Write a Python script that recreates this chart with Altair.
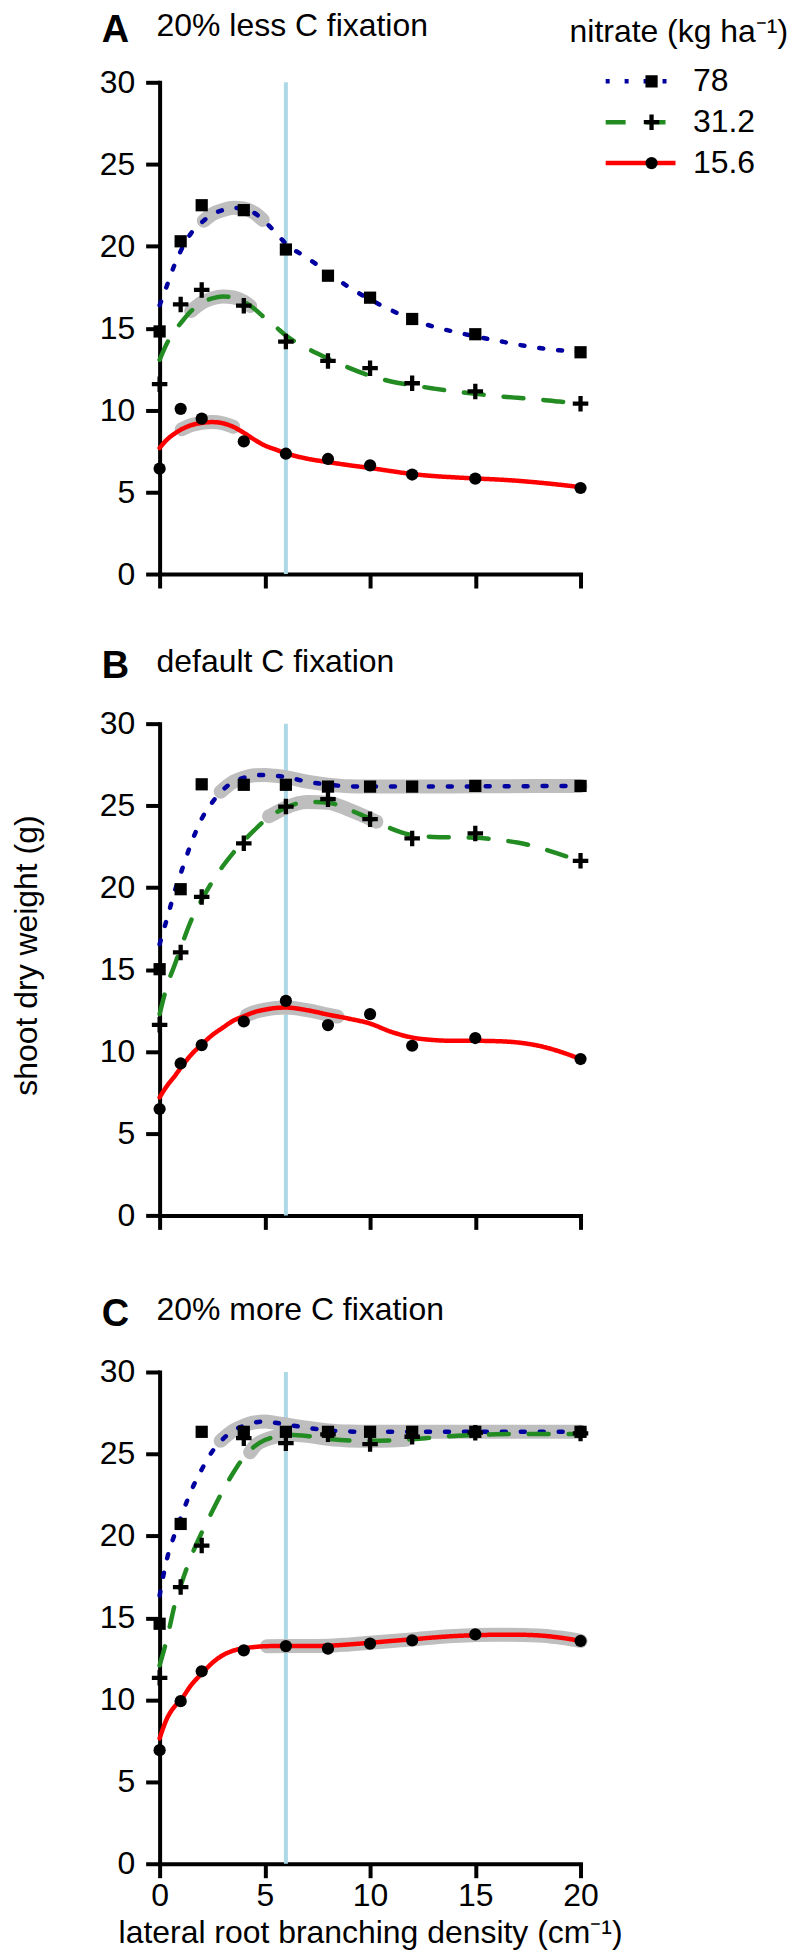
import altair as alt
import pandas as pd

FONT = "Liberation Sans"

# ---------------- data ----------------
series = ["78", "31.2", "15.6"]
series_colors = ["#0000A0", "#228B22", "#FF0000"]
series_dashes = [[4, 15], [20, 20], [1, 0]]
PLUS = "M-0.35,-1.27H0.35V-0.35H1.27V0.35H0.35V1.27H-0.35V0.35H-1.27V-0.35H-0.35Z"
series_shapes = ["square", PLUS, "circle"]

panel_letters = ["A", "B", "C"]
panel_titles = ["20% less C fixation", "default C fixation", "20% more C fixation"]
optimum_density = [6]
x_ticks = [0, 5, 10, 15, 20]
y_ticks = [0, 5, 10, 15, 20, 25, 30]

# simulated points
point_x = [0, 1, 2, 4, 6, 8, 10, 12, 15, 20]
a_78_pts = [14.8, 20.3, 22.5, 22.2, 19.8, 18.2, 16.86, 15.56, 14.63, 13.53]
a_31_pts = [11.58, 16.45, 17.33, 16.37, 14.18, 13.0, 12.56, 11.64, 11.14, 10.39]
a_15_pts = [6.43, 10.08, 9.48, 8.09, 7.34, 7.02, 6.63, 6.07, 5.82, 5.25]
b_78_pts = [15.02, 19.9, 26.3, 26.27, 26.27, 26.16, 26.16, 26.16, 26.2, 26.2]
b_31_pts = [11.63, 16.04, 19.43, 22.7, 24.94, 25.39, 24.17, 23.0, 23.3, 21.63]
b_15_pts = [6.49, 9.27, 10.39, 11.83, 13.09, 11.61, 12.28, 10.35, 10.82, 9.54]
c_78_pts = [14.64, 20.73, 26.35, 26.35, 26.35, 26.35, 26.35, 26.35, 26.35, 26.35]
c_31_pts = [11.34, 16.88, 19.41, 25.96, 25.66, 26.2, 25.6, 26.05, 26.3, 26.25]
c_15_pts = [6.93, 9.92, 11.74, 13.02, 13.28, 13.12, 13.43, 13.63, 13.99, 13.59]

# fitted curves
curve_x = [0, 0.35, 0.75, 1, 1.5, 2, 2.5, 3, 3.5, 4, 4.5, 5, 5.5, 6, 7, 8, 9, 10,
           11, 12, 13, 14, 15, 16, 17, 18, 19, 20]
a_78_fit = [16.4, 17.6, 19.0, 19.7, 20.8, 21.45, 21.95, 22.2, 22.34, 22.3, 22.03, 21.5, 20.85, 20.15,
            19.3, 18.4, 17.5, 16.75, 16.1, 15.52, 15.1, 14.78, 14.5, 14.25, 14.0, 13.8, 13.65, 13.53]
a_31_fit = [13.07, 14.08, 14.9, 15.3, 16.05, 16.55, 16.82, 16.93, 16.88, 16.62, 16.18, 15.62, 15.1, 14.55,
            13.78, 13.15, 12.58, 12.1, 11.75, 11.52, 11.32, 11.14, 11.0, 10.86, 10.75, 10.65, 10.52, 10.43]
a_15_fit = [7.69, 8.2, 8.6, 8.8, 9.08, 9.22, 9.27, 9.2, 8.98, 8.62, 8.2, 7.84, 7.6, 7.37,
            7.04, 6.83, 6.64, 6.47, 6.28, 6.1, 5.98, 5.9, 5.83, 5.77, 5.69, 5.58, 5.45, 5.3]
b_78_fit = [16.55, 18.1, 19.9, 20.85, 22.7, 24.2, 25.2, 25.95, 26.45, 26.7, 26.85, 26.87, 26.82, 26.74,
            26.46, 26.28, 26.18, 26.16, 26.16, 26.16, 26.16, 26.16, 26.17, 26.18, 26.18, 26.19, 26.2, 26.2]
b_31_fit = [12.28, 14.0, 15.4, 16.3, 18.0, 19.25, 20.35, 21.3, 22.12, 22.85, 23.5, 24.1, 24.55, 24.88,
            25.22, 25.18, 24.75, 24.2, 23.6, 23.2, 23.09, 23.06, 23.04, 22.92, 22.75, 22.45, 22.04, 21.63]
b_15_fit = [7.2, 7.9, 8.55, 9.0, 9.8, 10.43, 11.0, 11.45, 11.88, 12.15, 12.4, 12.55, 12.65, 12.68,
            12.52, 12.25, 12.0, 11.7, 11.2, 10.85, 10.7, 10.65, 10.65, 10.63, 10.55, 10.35, 10.0, 9.54]
c_78_fit = [16.37, 18.6, 20.22, 21.1, 22.75, 24.05, 25.15, 25.9, 26.42, 26.72, 26.92, 26.98, 26.9, 26.8,
            26.6, 26.44, 26.37, 26.35, 26.35, 26.35, 26.35, 26.35, 26.35, 26.35, 26.35, 26.35, 26.35, 26.35]
c_31_fit = [12.1, 13.73, 15.96, 16.95, 18.75, 20.2, 21.5, 22.75, 23.85, 24.8, 25.45, 25.85, 26.05, 26.18,
            26.1, 25.92, 25.82, 25.8, 25.82, 25.9, 26.0, 26.1, 26.15, 26.2, 26.22, 26.22, 26.22, 26.22]
c_15_fit = [7.65, 8.86, 9.65, 9.98, 10.9, 11.6, 12.25, 12.72, 13.0, 13.14, 13.22, 13.27, 13.28, 13.28,
            13.28, 13.3, 13.38, 13.48, 13.59, 13.69, 13.8, 13.89, 13.94, 13.97, 13.97, 13.93, 13.8, 13.59]

# grey highlighted stretches of the fitted curves
a_78_band_x = [2.1, 2.5, 3.0, 3.5, 4.0, 4.5, 4.9]
a_78_band_y = [21.55, 21.95, 22.2, 22.34, 22.3, 22.03, 21.6]
a_31_band_x = [1.5, 2.0, 2.5, 3.0, 3.5, 4.0, 4.3]
a_31_band_y = [16.05, 16.55, 16.82, 16.93, 16.88, 16.62, 16.35]
a_15_band_x = [1.05, 1.5, 2.0, 2.5, 3.0, 3.5]
a_15_band_y = [8.83, 9.08, 9.22, 9.27, 9.2, 8.98]
b_78_band_x = [2.9, 3.5, 4.0, 4.5, 5.0, 5.5, 6.0, 7.0, 8.0, 9.0, 10.0, 12.0, 15.0, 20.0]
b_78_band_y = [25.85, 26.45, 26.7, 26.85, 26.87, 26.82, 26.74, 26.46, 26.28, 26.18, 26.16, 26.16, 26.18, 26.2]
b_31_band_x = [5.2, 5.5, 6.0, 7.0, 8.0, 9.0, 10.0, 10.3]
b_31_band_y = [24.35, 24.55, 24.88, 25.22, 25.18, 24.75, 24.2, 24.02]
b_15_band_x = [4.15, 4.5, 5.0, 5.5, 6.0, 7.0, 8.0, 8.45]
b_15_band_y = [12.22, 12.4, 12.55, 12.65, 12.68, 12.52, 12.25, 12.13]
c_78_band_x = [2.9, 3.5, 4.0, 4.5, 5.0, 5.5, 6.0, 7.0, 8.0, 9.0, 10.0, 15.0, 20.0]
c_78_band_y = [25.8, 26.42, 26.72, 26.92, 26.98, 26.9, 26.8, 26.6, 26.44, 26.37, 26.35, 26.35, 26.35]
c_31_band_x = [4.3, 4.5, 5.0, 5.5, 6.0, 7.0, 8.0, 9.0, 10.0, 11.0, 11.7]
c_31_band_y = [25.1, 25.45, 25.85, 26.05, 26.18, 26.1, 25.92, 25.82, 25.8, 25.82, 25.86]
c_15_band_x = [5.1, 6.0, 7.0, 8.0, 9.0, 10.0, 12.0, 14.0, 16.0, 18.0, 19.0, 20.0]
c_15_band_y = [13.27, 13.28, 13.28, 13.3, 13.38, 13.48, 13.69, 13.89, 13.97, 13.93, 13.8, 13.59]

legend_title = ["nitrate (kg ha\u207b\u00b9)"]
y_title = "shoot dry weight (g)"
x_title = "lateral root branching density (cm\u207b\u00b9)"


def long_df(xs_list, ys_list, field="nitrate"):
    rows = []
    for s, xs, ys in zip(series, xs_list, ys_list):
        for xv, yv in zip(xs, ys):
            rows.append({"x": xv, "y": yv, field: s})
    return pd.DataFrame(rows)


panels_pts = [
    [a_78_pts, a_31_pts, a_15_pts],
    [b_78_pts, b_31_pts, b_15_pts],
    [c_78_pts, c_31_pts, c_15_pts],
]
panels_fit = [
    [a_78_fit, a_31_fit, a_15_fit],
    [b_78_fit, b_31_fit, b_15_fit],
    [c_78_fit, c_31_fit, c_15_fit],
]
panels_band = [
    ([a_78_band_x, a_31_band_x, a_15_band_x], [a_78_band_y, a_31_band_y, a_15_band_y]),
    ([b_78_band_x, b_31_band_x, b_15_band_x], [b_78_band_y, b_31_band_y, b_15_band_y]),
    ([c_78_band_x, c_31_band_x, c_15_band_x], [c_78_band_y, c_31_band_y, c_15_band_y]),
]

W, H = 422, 493
LW = 4.5
# vertical offsets (px above the plot) of each panel's letter and caption baselines
letter_y = [-40, -46, -46]
caption_y = [-46, -52, -52]


def make_panel(i):
    is_top = i == 0
    is_mid = i == 1
    is_bottom = i == 2

    if is_bottom:
        xaxis = alt.Axis(values=x_ticks, title=x_title, titleFont=FONT, titleFontSize=32,
                         titleFontWeight="normal", titleColor="black", titleBaseline="alphabetic",
                         titleY=79, labelPadding=3, labelFlush=False, labelOverlap=False)
    else:
        xaxis = alt.Axis(values=x_ticks, labels=False, title=None)
    if is_mid:
        yaxis = alt.Axis(values=y_ticks, title=y_title, titleFont=FONT, titleFontSize=32,
                         titleFontWeight="normal", titleColor="black", titleAngle=270,
                         titleAlign="center", titleBaseline="alphabetic",
                         titleX=-123, titleY=232, labelPadding=11, labelOverlap=False)
    else:
        yaxis = alt.Axis(values=y_ticks, title=None, labelPadding=11, labelOverlap=False)

    X = alt.X("x:Q", scale=alt.Scale(domain=[0, 20], nice=False, zero=False), axis=xaxis)
    Y = alt.Y("y:Q", scale=alt.Scale(domain=[0, 30], nice=False, zero=False), axis=yaxis)

    vline = alt.Chart(pd.DataFrame({"x": optimum_density})).mark_rule(
        color="#ADD8E6", strokeWidth=4).encode(x=X)

    bx, by = panels_band[i]
    band = alt.Chart(long_df(bx, by)).mark_line(
        color="#BEBEBE", strokeWidth=14, strokeCap="round", strokeJoin="round",
        interpolate="monotone").encode(x=X, y=Y, detail="nitrate:N")

    if is_top:
        leg_line = alt.Legend(orient="none", legendX=444.7, legendY=-21.5, title=None,
                              symbolType="stroke", symbolSize=4900, symbolStrokeWidth=LW,
                              clipHeight=41, rowPadding=0, padding=0, labelFont=FONT,
                              labelFontSize=32, labelColor="black", labelOffset=15,
                              symbolOpacity=1)
        leg_shape = alt.Legend(orient="none", legendX=477.2, legendY=-21.5, title=None,
                               symbolSize=150, clipHeight=41, rowPadding=0, padding=0,
                               labelExpr="''", labelFontSize=32,
                               symbolFillColor="black", symbolStrokeColor="black",
                               symbolStrokeWidth=0, symbolOpacity=1)
    else:
        leg_line = None
        leg_shape = None

    line = alt.Chart(long_df([curve_x] * 3, panels_fit[i])).mark_line(
        strokeWidth=LW, strokeCap="round", interpolate="monotone").encode(
        x=X, y=Y,
        color=alt.Color("nitrate:N", scale=alt.Scale(domain=series, range=series_colors),
                        legend=leg_line, sort=series),
        strokeDash=alt.StrokeDash("nitrate:N", scale=alt.Scale(domain=series, range=series_dashes),
                                  legend=leg_line, sort=series),
    )

    # shape scale domain comes from the data (sorted), so its legend stays separate
    pts = alt.Chart(long_df([point_x] * 3, panels_pts[i], field="nitrate_pt")).mark_point(
        filled=True, size=150, color="black", opacity=1).encode(
        x=X, y=Y,
        shape=alt.Shape("nitrate_pt:N", scale=alt.Scale(range=series_shapes),
                        legend=leg_shape, sort=series),
    )

    tdf = pd.DataFrame({"letter": [panel_letters[i]], "title": [panel_titles[i]]})
    letter = alt.Chart(tdf).mark_text(
        align="left", baseline="alphabetic", font=FONT, fontSize=38, fontWeight="bold",
        color="black").encode(x=alt.value(-58), y=alt.value(letter_y[i]), text="letter:N")
    title = alt.Chart(tdf).mark_text(
        align="left", baseline="alphabetic", font=FONT, fontSize=32, color="black").encode(
        x=alt.value(-3), y=alt.value(caption_y[i]), text="title:N")

    layers = [vline, band, line, pts, letter, title]
    if is_top:
        lt = alt.Chart(pd.DataFrame({"t": legend_title})).mark_text(
            align="left", baseline="alphabetic", font=FONT, fontSize=32, color="black").encode(
            x=alt.value(411), y=alt.value(-40), text="t:N")
        layers.append(lt)

    return alt.layer(*layers).properties(width=W, height=H).resolve_scale(
        color="shared", strokeDash="shared", shape="shared")


pA, pB, pC = make_panel(0), make_panel(1), make_panel(2)

res = dict(x="independent", y="independent", color="independent",
           strokeDash="independent", shape="independent")

top = alt.vconcat(pA, pB, spacing=56).resolve_scale(**res)
chart = alt.vconcat(top, pC, spacing=63).resolve_scale(**res).properties(
    padding={"left": 3, "top": 0, "right": 0, "bottom": 0}, background="white"
).configure_view(stroke=None).configure_axis(
    domainColor="black", domainWidth=4, tickColor="black", tickWidth=4, tickSize=14,
    labelFont=FONT, labelFontSize=32, labelColor="black", grid=False,
    domainCap="square", tickCap="butt"
)

chart.save("out.html", embed_options={"renderer": "svg", "actions": False})
